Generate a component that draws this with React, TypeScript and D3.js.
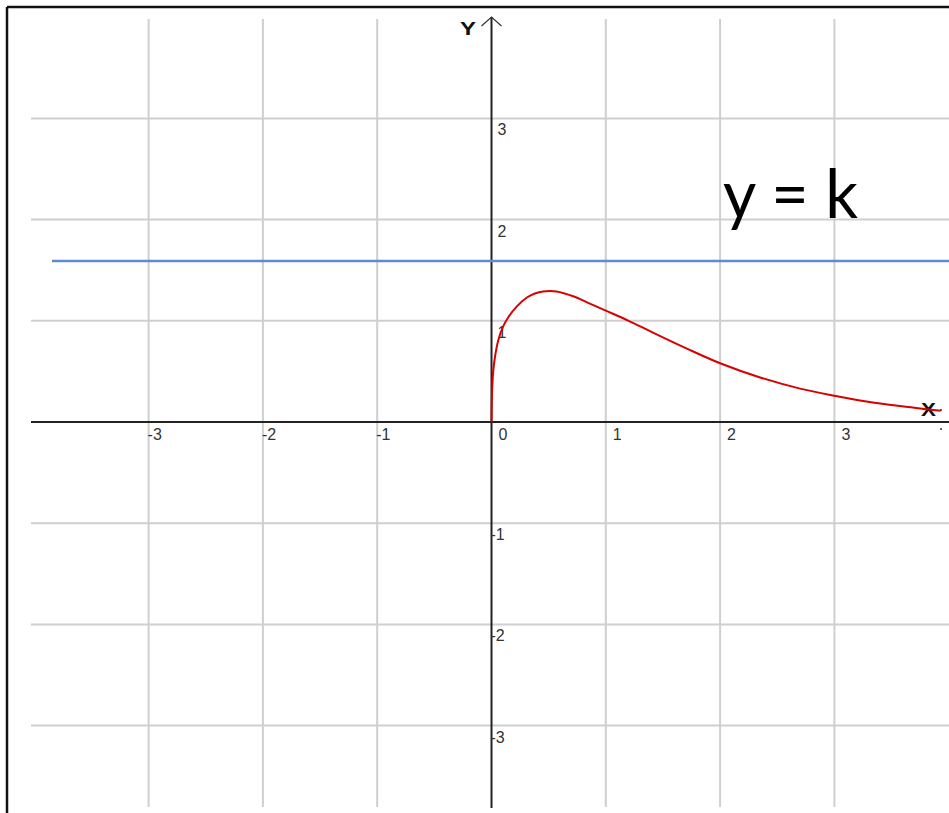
import React from "react";
import * as d3 from "d3";

// Sample points of the plotted function f(x), x >= 0
const curveX = [0, 0.005, 0.015, 0.03, 0.06, 0.1, 0.15, 0.22, 0.31, 0.38, 0.45, 0.57, 0.72, 0.86, 1.0, 1.2, 1.4, 1.7, 2.0, 2.35, 2.7, 3.0, 3.35, 3.7, 3.93];
const curveY = [0.0, 0.3, 0.5, 0.64, 0.81, 0.94, 1.04, 1.14, 1.23, 1.27, 1.29, 1.29, 1.24, 1.17, 1.1, 1.0, 0.89, 0.73, 0.58, 0.44, 0.33, 0.26, 0.19, 0.14, 0.11];

// Horizontal line y = k
const kValue = 1.59;

const xTicks = [-3, -2, -1, 0, 1, 2, 3];
const yTicks = [-3, -2, -1, 1, 2, 3];
const yLabels = ["-3", "-2", "-1", "1", "2", "3"];

const W = 949;
const H = 813;

export default function App() {
  const x = d3.scaleLinear().domain([-4, 4]).range([491.5 - 4 * 114.3, 491.5 + 4 * 114.3]);
  const y = d3.scaleLinear().domain([-4, 4]).range([422 + 4 * 101.2, 422 - 4 * 101.2]);

  const pts: [number, number][] = curveX.map((v, i) => [v, curveY[i]]);
  const line = d3
    .line<[number, number]>()
    .x((d) => x(d[0]))
    .y((d) => y(d[1]))
    .curve(d3.curveCatmullRom.alpha(0.5));

  const x0 = x(0);
  const y0 = y(0);
  const tickFont = { fontFamily: "'Liberation Sans', Arial, sans-serif", fontSize: 16, fill: "#333" };
  const axisNameFont = { fontFamily: "'Liberation Sans', Arial, sans-serif", fontWeight: "bold", fontSize: 18, fill: "#111" };

  return (
    <div style={{ position: "absolute", left: 0, top: 0 }}>
      <svg width={W} height={H} style={{ display: "block", background: "#fff" }}>
        {/* frame */}
        <line x1={7} y1={7} x2={W} y2={7} stroke="#111" strokeWidth={2.5} />
        <line x1={7} y1={7} x2={7} y2={H} stroke="#111" strokeWidth={2.5} />

        {/* grid */}
        {xTicks
          .filter((t) => t !== 0)
          .map((t) => (
            <line key={"gx" + t} x1={x(t)} x2={x(t)} y1={19} y2={807} stroke="#cfcfcf" strokeWidth={2} />
          ))}
        {yTicks.map((t) => (
          <line key={"gy" + t} x1={31} x2={W} y1={y(t)} y2={y(t)} stroke="#cfcfcf" strokeWidth={2} />
        ))}

        {/* axes */}
        <line x1={31} x2={W} y1={y0} y2={y0} stroke="#222" strokeWidth={2} />
        <line x1={x0} x2={x0} y1={17} y2={808} stroke="#222" strokeWidth={2} />
        <polyline
          points={`${x0 - 10},${26} ${x0},${17} ${x0 + 10},${26}`}
          fill="none"
          stroke="#333"
          strokeWidth={1.2}
        />
        <text x={460} y={35} textLength={16} lengthAdjust="spacingAndGlyphs" {...axisNameFont}>
          Y
        </text>
        <text x={921} y={416} textLength={15} lengthAdjust="spacingAndGlyphs" {...axisNameFont}>
          X
        </text>
        <circle cx={941} cy={410} r={1} fill="#333" />
        <circle cx={941} cy={429} r={1} fill="#333" />

        {/* x tick labels */}
        {xTicks.map((t) => (
          <text key={"xl" + t} x={x(t) + (t < 0 ? -1 : 7)} y={y0 + 18} {...tickFont}>
            {t < 0 ? "-" + Math.abs(t) : String(t)}
          </text>
        ))}
        {/* y tick labels */}
        {yTicks.map((t, i) => (
          <text key={"yl" + t} x={x0 + (t < 0 ? -1 : 6)} y={y(t) + 17} {...tickFont}>
            {yLabels[i]}
          </text>
        ))}

        {/* y = k */}
        <line x1={52} x2={W} y1={y(kValue)} y2={y(kValue)} stroke="#5b8dd0" strokeWidth={2.5} />
        <text
          x={723}
          y={218}
          fontFamily="Lato, 'Open Sans', sans-serif"
          fontSize={68}
          fill="#000"
          textLength={135}
          lengthAdjust="spacingAndGlyphs"
        >
          y = k
        </text>

        {/* function curve */}
        <path d={line(pts) ?? ""} fill="none" stroke="#d80000" strokeWidth={2} />
      </svg>
    </div>
  );
}
